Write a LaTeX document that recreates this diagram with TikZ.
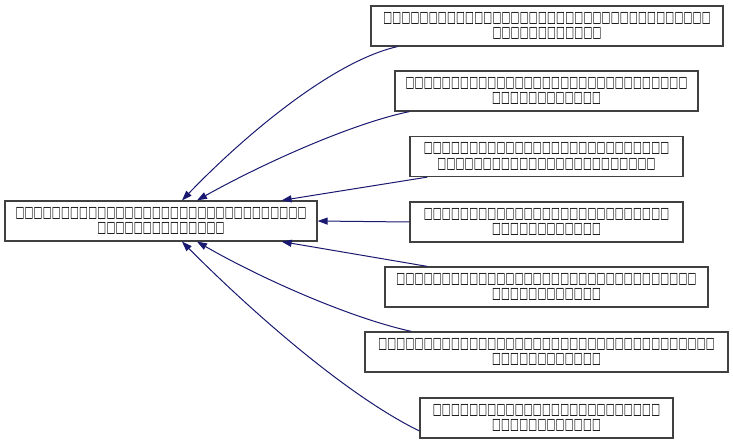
\documentclass[tikz,border=0pt]{standalone}
\usepackage{fontspec}
\usepackage{graphicx}
\setmainfont{DejaVu Sans}
\usetikzlibrary{arrows.meta}
\definecolor{edgeblue}{HTML}{191970}
\definecolor{boxgray}{HTML}{404040}
\newcommand{\tofu}[1]{\foreach \i in {1,...,#1}{\makebox[9.1pt]{\scalebox{0.78}[1.3]{□}}}}
\tikzset{
  cls/.style={draw=boxgray, line width=1.2pt, fill=white, rectangle, inner sep=0pt,
    minimum height=40pt, align=center, font=\fontsize{12}{15.5}\selectfont\bfseries},
  dep/.style={draw=edgeblue, line width=1pt, -{Triangle[length=10pt,width=7pt]}},
}
\begin{document}
\begin{tikzpicture}[x=1pt,y=-1pt]
\useasboundingbox (0,0) rectangle (733,444);
\node[cls, minimum width=312pt] (base) at (161,221) {\tofu{32}\\\tofu{14}};
\node[cls, minimum width=352pt] (n1) at (547,26) {\tofu{36}\\\tofu{12}};
\node[cls, minimum width=303pt] (n2) at (546.5,91) {\tofu{31}\\\tofu{12}};
\node[cls, minimum width=273pt] (n3) at (546.5,156.5) {\tofu{27}\\\tofu{24}};
\node[cls, minimum width=273pt] (n4) at (546.5,222) {\tofu{27}\\\tofu{12}};
\node[cls, minimum width=323pt] (n5) at (546.5,287) {\tofu{33}\\\tofu{12}};
\node[cls, minimum width=363pt] (n6) at (546.5,352) {\tofu{37}\\\tofu{12}};
\node[cls, minimum width=253pt] (n7) at (546.5,418) {\tofu{25}\\\tofu{12}};
\draw[dep] ([xshift=27pt]n1.south west) .. controls (330,62) and (240,140) .. ([xshift=21pt]base.north);
\draw[dep] ([xshift=15pt]n2.south west) .. controls (350,124) and (260,165) .. ([xshift=36pt]base.north);
\draw[dep] ([xshift=18pt]n3.south west) -- ([xshift=-36pt]base.north east);
\draw[dep] (n4.west) -- (base.east);
\draw[dep] ([xshift=43pt]n5.north west) -- ([xshift=-36pt]base.south east);
\draw[dep] ([xshift=47pt]n6.north west) .. controls (350,318) and (260,278) .. ([xshift=36pt]base.south);
\draw[dep] ([yshift=-13pt]n7.west) .. controls (340,392) and (240,300) .. ([xshift=21pt]base.south);
\end{tikzpicture}
\end{document}
